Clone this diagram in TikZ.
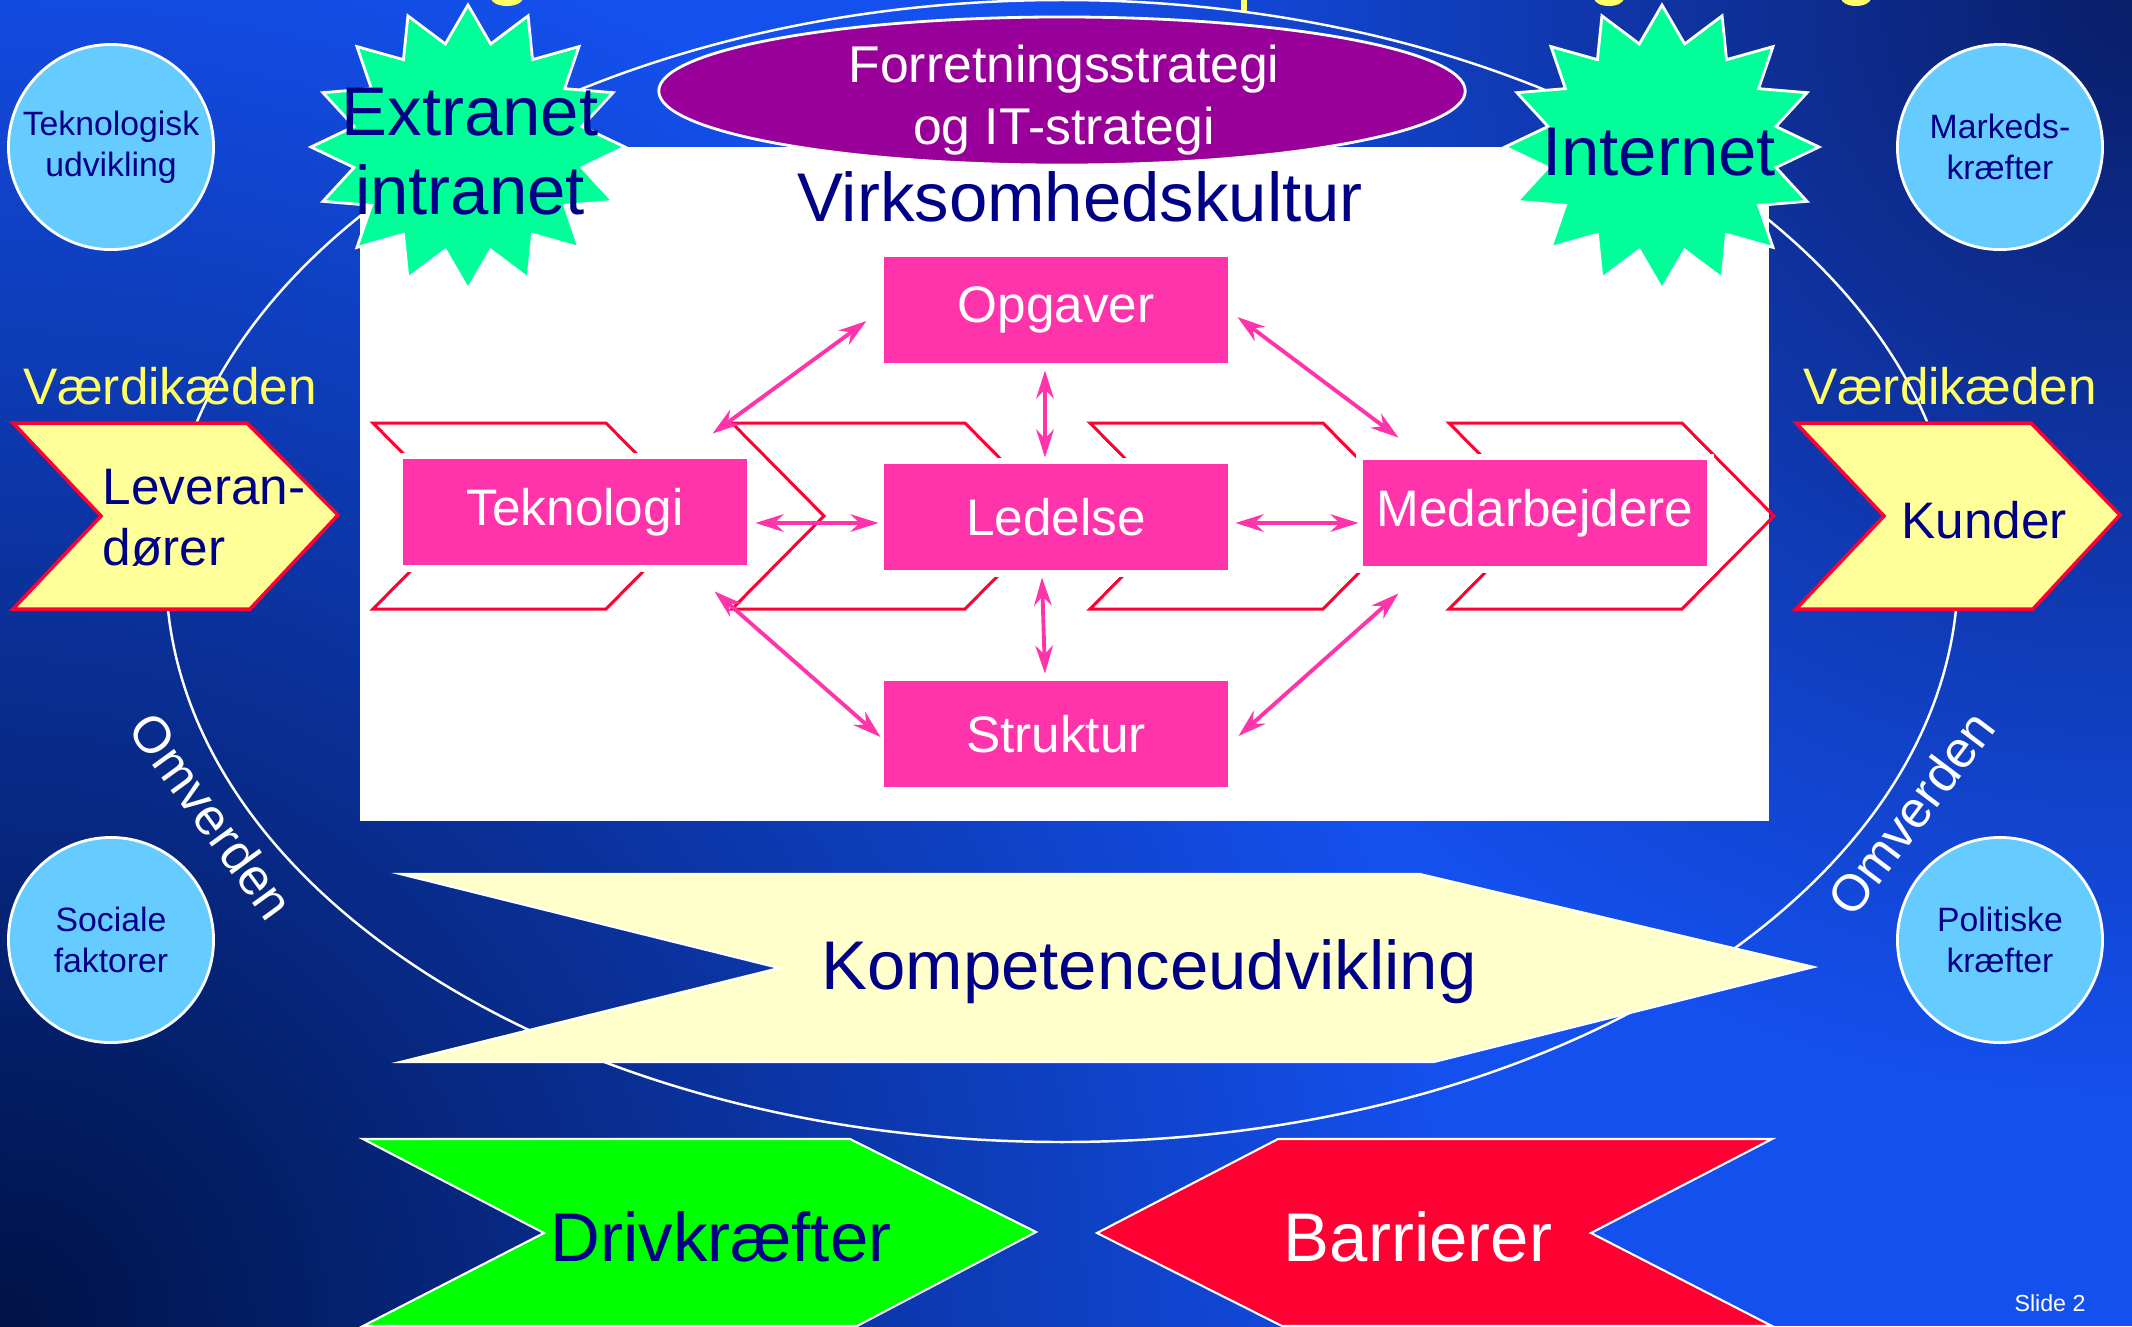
\documentclass[tikz,border=0pt]{standalone}
\usepackage{fontspec}
\setmainfont{Liberation Sans}
\usetikzlibrary{arrows.meta,shapes.geometric}

\definecolor{bgblue}{RGB}{20,80,238}
\definecolor{bgdark}{RGB}{0,18,70}
\definecolor{bgnavy}{RGB}{10,30,105}
\definecolor{txtnavy}{RGB}{0,0,135}
\definecolor{boxpink}{RGB}{255,51,170}
\definecolor{chevred}{RGB}{255,0,51}
\definecolor{chevyellow}{RGB}{255,255,153}
\definecolor{kompcream}{RGB}{255,255,204}
\definecolor{starteal}{RGB}{0,255,153}
\definecolor{circblue}{RGB}{102,204,255}
\definecolor{stratpurple}{RGB}{153,0,153}
\definecolor{labelyellow}{RGB}{255,255,102}
\definecolor{drivgreen}{RGB}{0,255,0}

\tikzset{
  bigtext/.style={text=txtnavy, inner sep=0pt, align=center, font=\fontsize{19.6}{22.5}\selectfont},
  midtext/.style={inner sep=0pt, font=\fontsize{14.6}{17.4}\selectfont},
  pinkbox/.style={fill=boxpink, draw=white, line width=0.5pt, minimum width=3.45cm, minimum height=1.07cm,
    text=white, font=\fontsize{14.6}{17.4}\selectfont, preaction={draw=white, line width=3.4pt}},
  link/.style={boxpink, line width=1.1pt,
    {Stealth[length=8pt,width=5pt,inset=2.6pt]}-{Stealth[length=8pt,width=5pt,inset=2.6pt]}},
  outline/.style={chevred, line width=0.85pt, line join=miter},
  valuechev/.style={fill=chevyellow, draw=chevred, line width=1pt},
  burst/.style={fill=starteal, draw=white, line width=0.8pt},
  factor/.style={circle, minimum size=2.05cm, inner sep=0pt, fill=circblue, draw=white, line width=0.8pt,
    text=txtnavy, align=center, font=\fontsize{9.6}{11.6}\selectfont},
  bigarrow/.style={draw=white, line width=0.6pt}
}

\begin{document}
\begin{tikzpicture}[x=0.01cm, y=-0.01cm]
  \useasboundingbox (0,0) rectangle (2132,1326);

  % background
  \fill[bgblue] (0,0) rectangle (2132,1326);
  \begin{scope}
    \clip (0,0) rectangle (2132,1326);
    \shade[inner color=bgdark, outer color=bgblue] (0,1326) circle [radius=1450];
    \shade[inner color=bgnavy, outer color=bgblue] (2132,0) circle [radius=1100];
  \end{scope}

  % cut-off title at the top edge
  \fill[labelyellow] (507,-2) ellipse [x radius=16, y radius=8];
  \fill[labelyellow] (1241,-2) rectangle (1247,11);
  \fill[labelyellow] (1609,-2) ellipse [x radius=15, y radius=8];
  \fill[labelyellow] (1856,-2) ellipse [x radius=15, y radius=8];

  % Omverden ring
  \draw[white, line width=0.7pt] (1062,571) ellipse [x radius=896, y radius=571];
  \node[midtext, white, rotate=-54] (omv1) at (212,816) {Omverden};
  \node[midtext, white, rotate=53] (omv2) at (1911,813) {Omverden};

  % company box
  \fill[white] (360,147) rectangle (1769,821);
  \node[bigtext] (kultur) at (1080,197) {Virksomhedskultur};

  % value chain outlines
  \foreach \cx in {373,732,1090,1449}
    \draw[outline] (\cx,423) -- ++(233,0) -- ++(92,93) -- ++(-92,93) -- ++(-233,0) -- ++(92,-93) -- cycle;

  % the five elements
  \node[pinkbox] (opg) at (1056,310) {Opgaver};
  \node[pinkbox] (tek) at (575,512) {Teknologi};
  \node[pinkbox] (led) at (1056,517) {Ledelse};
  \node[pinkbox] (med) at (1535,513) {Medarbejdere};
  \node[pinkbox] (str) at (1056,734) {Struktur};

  \draw[link] ([shift={(-16,11)}]opg.west) -- ([shift={(-36,-24)}]tek.north east);
  \draw[link] ([shift={(8,7)}]opg.east) -- ([shift={(37,-21)}]med.north west);
  \draw[link] ([shift={(-11,6)}]opg.south) -- ([shift={(-11,-5)}]led.north);
  \draw[link] ([shift={(7,11)}]tek.east) -- ([shift={(-4,6)}]led.west);
  \draw[link] ([shift={(6,6)}]led.east) -- ([shift={(-3,10)}]med.west);
  \draw[link] ([shift={(-14,6)}]led.south) -- ([shift={(-11,-6)}]str.north);
  \draw[link] ([shift={(-34,25)}]tek.south east) -- ([shift={(-2,3)}]str.west);
  \draw[link] ([shift={(37,26)}]med.south west) -- ([shift={(9,2)}]str.east);

  % strategy
  \node[ellipse, fill=stratpurple, draw=white, line width=0.8pt, minimum width=8.06cm, minimum height=1.48cm,
    inner sep=0pt] (strat) at (1062,91) {};
  \node[text=white, inner sep=0pt, align=center, font=\fontsize{14.7}{17.8}\selectfont] (stratlbl)
    at (1064,100) {Forretningsstrategi\\og IT-strategi};

  % Extranet / Internet bursts
  \filldraw[burst] (468,5) \foreach \k in {1,...,31}
    {-- ({468+157*(1-0.26*mod(\k,2))*sin(\k*11.25)}, {147-142*(1-0.26*mod(\k,2))*cos(\k*11.25)})} -- cycle;
  \filldraw[burst] (1662,5) \foreach \k in {1,...,31}
    {-- ({1662+157*(1-0.26*mod(\k,2))*sin(\k*11.25)}, {147-142*(1-0.26*mod(\k,2))*cos(\k*11.25)})} -- cycle;
  \node[bigtext] (extra) at (470,152) {Extranet\\intranet};
  \node[bigtext] (inet) at (1659,152) {Internet};

  % Vaerdikaeden
  \node[midtext, labelyellow] (vk1) at (170,386) {Værdikæden};
  \node[midtext, labelyellow] (vk2) at (1950,386) {Værdikæden};
  \draw[valuechev] (13,423) -- (247,423) -- (338,515) -- (250,609) -- (13,609) -- (101,516) -- cycle;
  \draw[valuechev] (1796,423) -- (2031,423) -- (2120,515) -- (2033,609) -- (1796,609) -- (1884,516) -- cycle;
  \node[midtext, txtnavy, align=left, anchor=west] (lev) at (102,518) {Leveran-\\dører};
  \node[midtext, txtnavy] (kund) at (1984,520) {Kunder};

  % Kompetenceudvikling
  \fill[kompcream, bigarrow] (400,874) -- (1420,874) -- (1814,967) -- (1434,1062) -- (400,1062) -- (779,968) -- cycle;
  \node[bigtext] (komp) at (1149,972) {Kompetenceudvikling};

  % drivers and barriers
  \fill[drivgreen, bigarrow] (363,1139) -- (850,1139) -- (1036,1232) -- (857,1326) -- (363,1326) -- (544,1233) -- cycle;
  \fill[chevred, bigarrow] (1278,1139) -- (1772,1139) -- (1591,1233) -- (1772,1326) -- (1282,1326) -- (1097,1233) -- cycle;
  \node[bigtext] (driv) at (721,1237) {Drivkræfter};
  \node[bigtext, text=white] (barr) at (1418,1237) {Barrierer};

  % outside factors
  \node[factor] (tekudv) at (111,147) {Teknologisk\\udvikling};
  \node[factor] (marked) at (2000,147) {Markeds-\\kræfter};
  \node[factor] (social) at (111,940) {Sociale\\faktorer};
  \node[factor] (politik) at (2000,940) {Politiske\\kræfter};

  \node[white, inner sep=0pt, font=\fontsize{6.6}{8}\selectfont] (slide) at (2050,1303) {Slide 2};
\end{tikzpicture}
\end{document}
